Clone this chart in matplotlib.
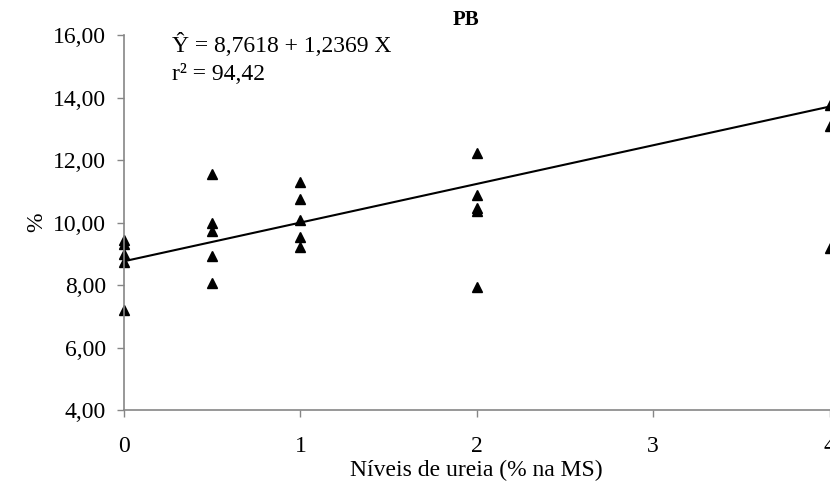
import numpy as np
import matplotlib.pyplot as plt
from matplotlib.ticker import FuncFormatter

plt.rcParams['font.family'] = ['Liberation Serif', 'DejaVu Serif']

x_obs = [0, 0, 0, 0, 0,
         0.5, 0.5, 0.5, 0.5, 0.5,
         1, 1, 1, 1, 1,
         2, 2, 2, 2, 2,
         4, 4, 4]
y_obs = [9.45, 9.3, 9.0, 8.75, 7.2,
         11.55, 10.0, 9.73, 8.93, 8.06,
         11.3, 10.74, 10.07, 9.55, 9.23,
         12.22, 10.88, 10.45, 10.38, 7.93,
         13.75, 13.08, 9.2]

# regression from the equation on the chart
b0 = 8.7618
b1 = 1.2369
x_fit = np.array([0, 4])
y_fit = b0 + b1 * x_fit

fig = plt.figure(figsize=(8.3, 4.83), dpi=100)
ax = fig.add_axes([0.1494, 0.151, 0.85, 0.7765])

ax.plot(x_fit, y_fit, color='black', linewidth=1.5, clip_on=False)
ax.plot(x_obs, y_obs, linestyle='none', marker='^', color='black',
        markersize=7, clip_on=False)

ax.set_xlim(0, 4)
ax.set_ylim(4, 16)
ax.set_xticks([0, 1, 2, 3, 4])
ax.set_yticks(np.arange(4, 17, 2))
ax.yaxis.set_major_formatter(FuncFormatter(lambda v, p: f'{v:.2f}'.replace('.', ',')))

for s in ['top', 'right']:
    ax.spines[s].set_visible(False)
for s in ['left', 'bottom']:
    ax.spines[s].set_color('#868686')
    ax.spines[s].set_linewidth(1.2)
ax.tick_params(axis='both', direction='out', color='#868686', length=5,
               labelsize=17, width=1)
ax.tick_params(axis='x', pad=14)
ax.tick_params(axis='y', pad=8)

ax.set_xlabel('Níveis de ureia (% na MS)', fontsize=17, labelpad=2)
ax.set_ylabel('%', fontsize=17, labelpad=4)

fig.text(466 / 830, 1 - 20 / 483, 'PB', fontsize=15, fontweight='bold',
         ha='center', va='center')
ax.text(172 / 830, 1 - 45 / 483, 'Ŷ = 8,7618 + 1,2369 X', transform=fig.transFigure,
        fontsize=17, ha='left', va='center')
ax.text(172 / 830, 1 - 74 / 483, 'r² = 94,42', transform=fig.transFigure,
        fontsize=17, ha='left', va='center')

fig.savefig('out.png', dpi=100)
